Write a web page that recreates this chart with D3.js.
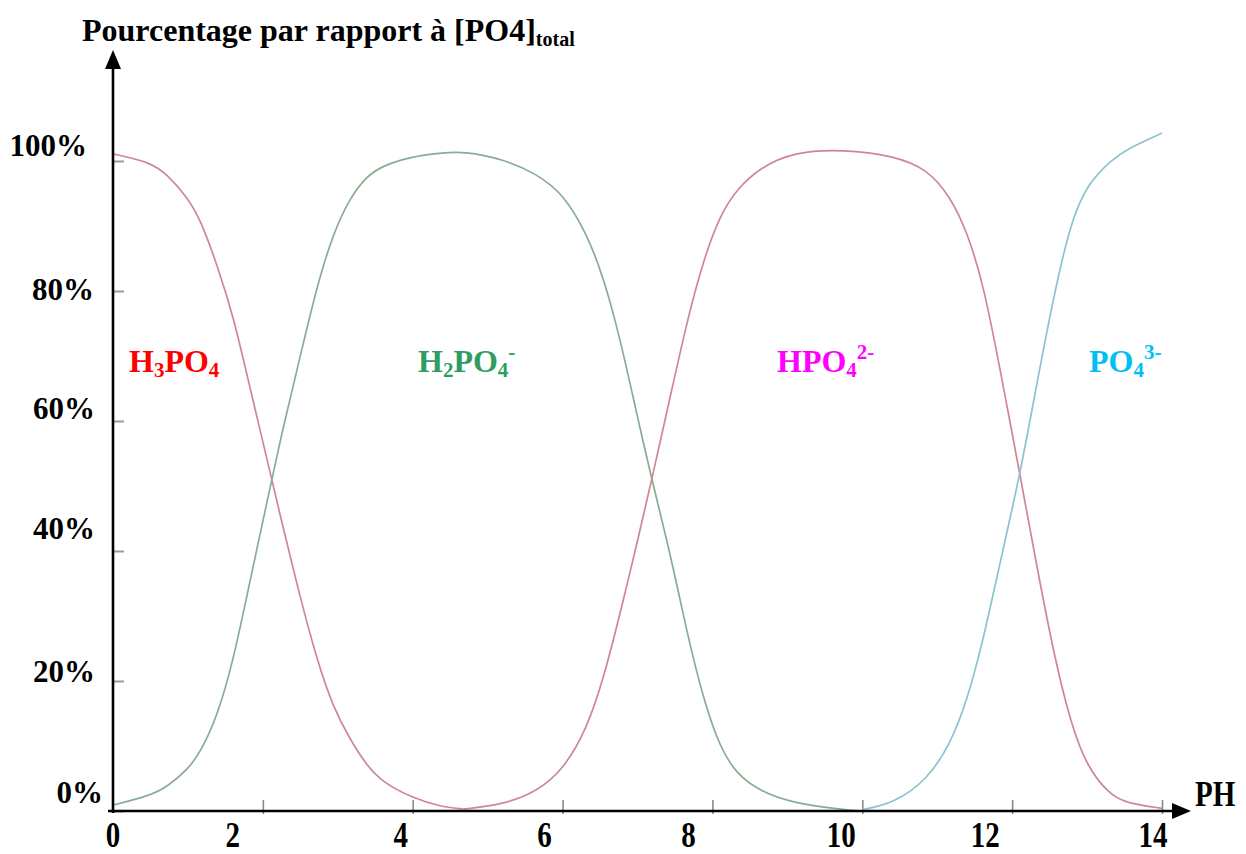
<!DOCTYPE html>
<html>
<head>
<meta charset="utf-8">
<script src="https://cdn.jsdelivr.net/npm/d3@7"></script>
<style>
  html, body { margin: 0; padding: 0; background: #fff; }
  svg { display: block; font-family: 'Liberation Serif', 'Times New Roman', serif; font-weight: bold; }
</style>
</head>
<body>
<svg id="chart" width="1246" height="854"></svg>
<script>
// values: pH, then % of [PO4]total
const h3po4Ph = [0, 0.5, 0.72, 1.0, 1.17, 1.39, 1.61, 1.83, 2.12, 2.27, 2.5, 2.72, 2.94, 3.16, 3.38, 3.6, 4.0, 4.36, 4.68]
const h3po4Pct = [101.1, 99.8, 98, 94.3, 90.9, 84, 76, 65, 51, 43.6, 32.8, 23.3, 15.9, 11.1, 7.1, 4.4, 2.0, 0.7, 0.3]

const h2po4Ph = [0, 0.5, 0.72, 1.0, 1.17, 1.39, 1.61, 1.83, 2.12, 2.27, 2.5, 2.72, 2.94, 3.16, 3.38, 3.6, 4.0, 4.36, 4.68,
    5.21, 5.66, 6.01, 6.32, 6.55, 6.77, 6.99, 7.19, 7.44, 7.66, 7.88, 8.1, 8.32, 8.64, 9.08, 9.75, 10.0]
const h2po4Pct = [0.9, 2.4, 3.7, 6.4, 9.1, 14.5, 23.3, 35.5, 51, 59, 70, 80.7, 88.9, 94.3, 97.6, 99.3, 100.7, 101.2, 101.5,
    100.3, 98, 94.9, 88.9, 82, 72.6, 61.1, 51, 39.5, 27.4, 17.2, 9.8, 5.7, 3.0, 1.2, 0.2, 0]

const hpo4Ph = [4.68, 5.21, 5.66, 6.01, 6.32, 6.55, 6.77, 6.99, 7.19, 7.44, 7.66, 7.88, 8.1, 8.32, 8.64, 9.08, 9.75,
    10.42, 10.86, 11.17, 11.4, 11.62, 11.84, 12.11, 12.33, 12.56, 12.78, 13.0, 13.32, 13.54, 14.0]
const hpo4Pct = [0.3, 1.0, 3.0, 6.4, 12.5, 20.5, 30.5, 41, 51, 63.9, 75.3, 84.8, 91.6, 95.6, 99, 101.4, 101.8,
    100.8, 98.8, 94.6, 89.1, 80.9, 67.9, 51.4, 37.6, 23.9, 13.6, 6.7, 2.3, 1.2, 0.4]

const po4Ph = [10.0, 10.42, 10.86, 11.17, 11.4, 11.62, 11.84, 12.11, 12.33, 12.56, 12.78, 13.0, 13.32, 13.54, 14.0]
const po4Pct = [0.2, 1.2, 4.7, 10.2, 17, 26.6, 38.3, 52, 65.8, 79.5, 90.5, 96.4, 100.1, 101.9, 104.3]

const xTicks = [0, 2, 4, 6, 8, 10, 12, 14]
const yTicks = [0, 20, 40, 60, 80, 100]

const svg = d3.select('#chart')
const x = d3.scaleLinear().domain([0, 14]).range([113, 1162])
const y = d3.scaleLinear().domain([0, 100]).range([811, 161])

// the labels in the original sit a little off their ticks
const yLabelNudge = { 0: [8, -19], 20: [0, -10], 40: [0, -23], 60: [0, -13], 80: [-1, -2], 100: [-8, -16] }
const xLabelNudge = { 0: 0, 2: -30, 4: -12, 6: -18, 8: -24, 10: -21, 12: -27, 14: -9 }

// ticks
svg.append('g')
    .attr('transform', `translate(${x(0)},0)`)
    .call(d3.axisRight(y).tickValues(yTicks).tickSize(11).tickFormat(''))
    .call((g) => g.select('.domain').remove())
    .selectAll('line').attr('stroke', '#9a9a9a').attr('stroke-width', 2)

svg.append('g')
    .attr('transform', `translate(0,${y(0)})`)
    .call(d3.axisTop(x).tickValues(xTicks.slice(1)).tickSize(11).tickFormat(''))
    .call((g) => g.select('.domain').remove())
    .selectAll('line').attr('stroke', '#8a8a8a').attr('stroke-width', 1.6).attr('y2', -11).attr('y1', 3)

// curves
const line = d3.line()
    .x((d) => x(d[0]))
    .y((d) => y(d[1]))
    .curve(d3.curveBasis)

const series = [
    { pts: d3.zip(h3po4Ph, h3po4Pct), color: '#cf8796' },
    { pts: d3.zip(h2po4Ph, h2po4Pct), color: '#88ad91' },
    { pts: d3.zip(hpo4Ph, hpo4Pct), color: '#cf8796' },
    { pts: d3.zip(po4Ph, po4Pct), color: '#8dc3cf' },
]
svg.selectAll('path.curve')
    .data(series)
    .enter().append('path')
    .attr('class', 'curve')
    .attr('d', (d) => line(d.pts))
    .attr('fill', 'none')
    .attr('stroke', (d) => d.color)
    .attr('stroke-width', 1.7)

// axes with arrows
svg.append('line')
    .attr('x1', x(0)).attr('x2', x(0))
    .attr('y1', y(0) + 2).attr('y2', 66)
    .attr('stroke', '#000').attr('stroke-width', 2.6)
svg.append('path')
    .attr('d', `M${x(0)},50 L${x(0) - 8},69 L${x(0) + 8},69 Z`)
    .attr('fill', '#000')

svg.append('line')
    .attr('x1', x(0) - 5).attr('x2', 1176)
    .attr('y1', y(0)).attr('y2', y(0))
    .attr('stroke', '#000').attr('stroke-width', 2.6)
svg.append('path')
    .attr('d', `M1191,${y(0)} L1172,${y(0) - 8} L1172,${y(0) + 8} Z`)
    .attr('fill', '#000')

// tick labels
svg.append('g').selectAll('text')
    .data(yTicks)
    .enter().append('text')
    .attr('x', (d) => 95 + yLabelNudge[d][0])
    .attr('y', (d) => y(d) + yLabelNudge[d][1] + 10.5)
    .attr('text-anchor', 'end')
    .attr('font-size', 31)
    .text((d) => d + '%')

svg.append('g').selectAll('text')
    .data(xTicks)
    .enter().append('text')
    .attr('transform', (d) => `translate(${x(d) + xLabelNudge[d]},847) scale(1,1.2)`)
    .attr('text-anchor', 'middle')
    .attr('font-size', 29)
    .text((d) => d)

svg.append('text')
    .attr('transform', 'translate(1195,806) scale(1,1.2)')
    .attr('font-size', 29)
    .text('PH')

// title
const title = svg.append('text')
    .attr('x', 82).attr('y', 41)
    .attr('font-size', 32)
title.append('tspan').text('Pourcentage par rapport à [PO4]')
title.append('tspan').attr('font-size', 20).attr('dy', 5).text('total')

// species labels
const species = [
    { x: 129, color: '#ff0000', parts: [['H'], ['3', 'sub'], ['PO'], ['4', 'sub']] },
    { x: 418, color: '#2f9c61', parts: [['H'], ['2', 'sub'], ['PO'], ['4', 'sub'], ['-', 'sup']] },
    { x: 777, color: '#ff00ff', parts: [['HPO'], ['4', 'sub'], ['2-', 'sup']] },
    { x: 1089, color: '#00bff2', parts: [['PO'], ['4', 'sub'], ['3-', 'sup']] },
]
species.forEach((s) => {
    const t = svg.append('text')
        .attr('x', s.x).attr('y', 372)
        .attr('font-size', 32)
        .attr('fill', s.color)
    let shift = 0
    s.parts.forEach(([txt, kind]) => {
        const target = kind === 'sub' ? 5 : kind === 'sup' ? -13 : 0
        t.append('tspan')
            .attr('dy', target - shift)
            .attr('font-size', kind ? 21 : 32)
            .text(txt)
        shift = target
    })
})
</script>
</body>
</html>
